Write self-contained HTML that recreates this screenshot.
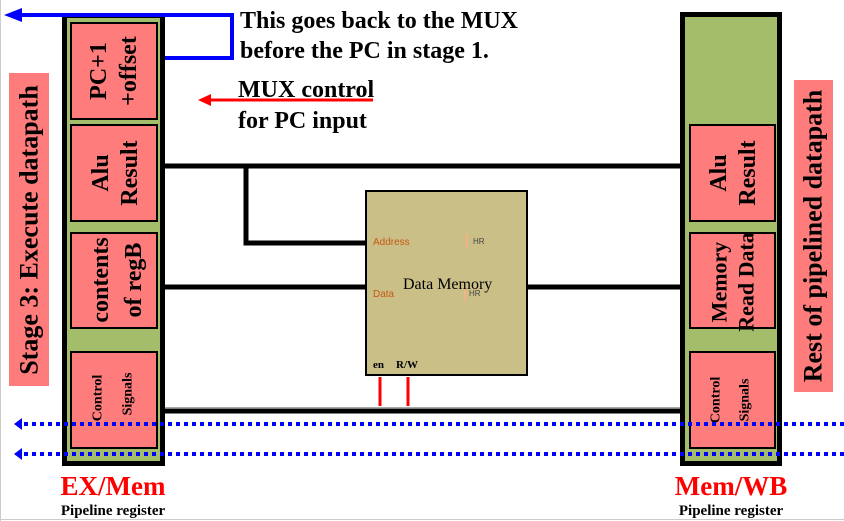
<!DOCTYPE html>
<html><head><style>body{margin:0;background:#fff}svg{display:block}</style></head><body>
<svg width="844" height="521" xmlns="http://www.w3.org/2000/svg" font-family="Liberation Serif, serif">
<line x1="0.5" y1="0" x2="0.5" y2="521" stroke="#ccc" stroke-width="1"/>
<line x1="0" y1="519.5" x2="844" y2="519.5" stroke="#ccc" stroke-width="1"/>
<rect x="9" y="73" width="40" height="313" fill="#ff7c7c"/>
<text transform="translate(29,230) rotate(-90)" text-anchor="middle" dominant-baseline="central" font-size="26" font-weight="bold">Stage 3: Execute datapath</text>
<rect x="794" y="80" width="39" height="312" fill="#ff7c7c"/>
<text transform="translate(813,236) rotate(-90)" text-anchor="middle" dominant-baseline="central" font-size="26" font-weight="bold">Rest of pipelined datapath</text>
<g stroke="#000" stroke-width="5" fill="none">
<line x1="165" y1="166" x2="680" y2="166"/>
<polyline points="246,166 246,243 365,243"/>
<line x1="165" y1="287" x2="365" y2="287"/>
<line x1="527" y1="287" x2="680" y2="287"/>
<line x1="165" y1="411" x2="680" y2="411"/>
</g>
<line x1="165" y1="407.5" x2="680" y2="407.5" stroke="#aaa" stroke-width="1"/>
<rect x="64.5" y="15.5" width="98" height="448" fill="#a3bd6b" stroke="#000" stroke-width="5"/>
<rect x="682.5" y="14.5" width="97" height="449" fill="#a3bd6b" stroke="#000" stroke-width="5"/>
<g fill="#ff7c7c" stroke="#000" stroke-width="2">
<rect x="71" y="23" width="86" height="96"/>
<rect x="71" y="125" width="86" height="96"/>
<rect x="71" y="233" width="86" height="95"/>
<rect x="71" y="352" width="86" height="96"/>
<rect x="690" y="125" width="85" height="96"/>
<rect x="690" y="233" width="85" height="95"/>
<rect x="690" y="352" width="85" height="96"/>
</g>
<g font-weight="bold" font-size="24" text-anchor="middle" dominant-baseline="central">
<text transform="translate(99,71) rotate(-90)">PC+1</text>
<text transform="translate(129,71) rotate(-90)">+offset</text>
<text transform="translate(101,173) rotate(-90)">Alu</text>
<text transform="translate(130,173) rotate(-90)">Result</text>
<text transform="translate(101,280) rotate(-90)">contents</text>
<text transform="translate(134,280) rotate(-90)">of regB</text>
<text transform="translate(719,173) rotate(-90)">Alu</text>
<text transform="translate(748,173) rotate(-90)">Result</text>
<text transform="translate(719,282) rotate(-90)" font-size="22">Memory</text>
<text transform="translate(746,282) rotate(-90)" font-size="22">Read Data</text>
<g font-size="14">
<text transform="translate(98,398) rotate(-90)">Control</text>
<text transform="translate(128,394) rotate(-90)">Signals</text>
<text transform="translate(716,400) rotate(-90)">Control</text>
<text transform="translate(745,400) rotate(-90)">Signals</text>
</g>
</g>
<rect x="366" y="191" width="161" height="184" fill="#cbbf88" stroke="#000" stroke-width="2"/>
<text x="373" y="245" font-family="Liberation Sans, sans-serif" font-size="10" fill="#c55a11">Address</text>
<text x="373" y="297" font-family="Liberation Sans, sans-serif" font-size="10" fill="#c55a11">Data</text>
<rect x="466" y="234" width="2" height="15" fill="#f4b183"/>
<rect x="464" y="286" width="2" height="15" fill="#f4b183"/>
<text x="473" y="244" font-family="Liberation Sans, sans-serif" font-size="8" fill="#444">HR</text>
<text x="469" y="296" font-family="Liberation Sans, sans-serif" font-size="8" fill="#444">HR</text>
<text x="403" y="289" font-size="16">Data Memory</text>
<text x="373" y="368" font-size="11" font-weight="bold">en</text>
<text x="396" y="368" font-size="11" font-weight="bold">R/W</text>
<line x1="380" y1="377" x2="380" y2="406" stroke="#f00" stroke-width="3"/>
<line x1="408" y1="377" x2="408" y2="406" stroke="#f00" stroke-width="3"/>
<polyline points="20,15 232,15 232,58 165,58" fill="none" stroke="#0000ff" stroke-width="4"/>
<polygon points="4,15 22,8 22,22" fill="#0000ff"/>
<line x1="210" y1="100" x2="373" y2="100" stroke="#f00" stroke-width="3"/>
<polygon points="198,100 211,94 211,106" fill="#f00"/>
<g stroke="#0000ff" stroke-width="4" stroke-dasharray="4,4">
<line x1="24" y1="424" x2="844" y2="424"/>
<line x1="24" y1="454" x2="844" y2="454"/>
</g>
<polygon points="14,424 22,418 22,430" fill="#0000ff"/>
<polygon points="14,454 22,448 22,460" fill="#0000ff"/>
<g font-weight="bold" font-size="24">
<text x="240" y="28">This goes back to the MUX</text>
<text x="240" y="58">before the PC in stage 1.</text>
<text x="238" y="97">MUX control</text>
<text x="238" y="128">for PC input</text>
</g>
<text x="113" y="495" text-anchor="middle" font-size="27" font-weight="bold" fill="#f00">EX/Mem</text>
<text x="731" y="495" text-anchor="middle" font-size="27" font-weight="bold" fill="#f00">Mem/WB</text>
<text x="113" y="515" text-anchor="middle" font-size="15" font-weight="bold">Pipeline register</text>
<text x="731" y="515" text-anchor="middle" font-size="15" font-weight="bold">Pipeline register</text>
</svg>
</body></html>
